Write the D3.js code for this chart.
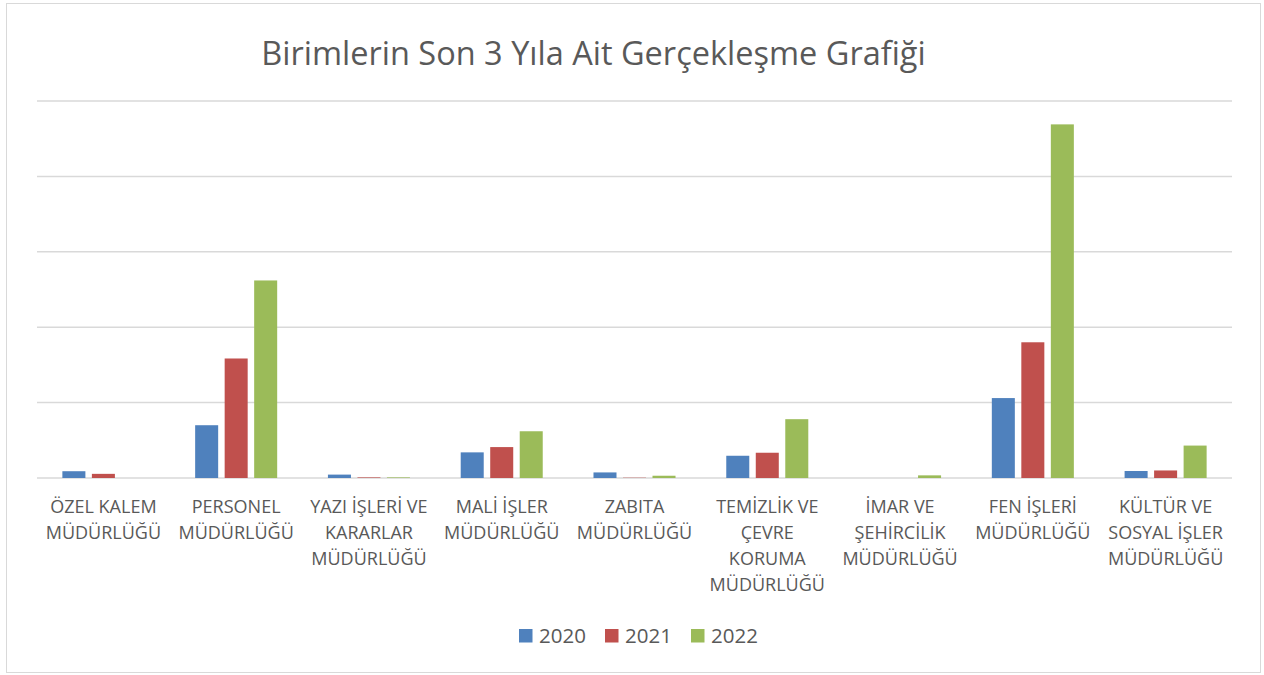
<!DOCTYPE html>
<html>
<head>
<meta charset="utf-8">
<script src="https://cdn.jsdelivr.net/npm/d3@7"></script>
<style>
  body { margin: 0; background: #fff; }
  text { font-family: "Open Sans", "Noto Sans", sans-serif; fill: #595959; }
</style>
</head>
<body>
<div id="chart"></div>
<script>
// values, one gridline = 1 unit (axis labels are hidden in the original)
const categories = [
	"ÖZEL KALEM MÜDÜRLÜĞÜ",
	"PERSONEL MÜDÜRLÜĞÜ",
	"YAZI İŞLERİ VE KARARLAR MÜDÜRLÜĞÜ",
	"MALİ İŞLER MÜDÜRLÜĞÜ",
	"ZABITA MÜDÜRLÜĞÜ",
	"TEMİZLİK VE ÇEVRE KORUMA MÜDÜRLÜĞÜ",
	"İMAR VE ŞEHİRCİLİK MÜDÜRLÜĞÜ",
	"FEN İŞLERİ MÜDÜRLÜĞÜ",
	"KÜLTÜR VE SOSYAL İŞLER MÜDÜRLÜĞÜ"
]
// how the tick labels wrap in the original
const tickLabels = [
	["ÖZEL KALEM", "MÜDÜRLÜĞÜ"],
	["PERSONEL", "MÜDÜRLÜĞÜ"],
	["YAZI İŞLERİ VE", "KARARLAR", "MÜDÜRLÜĞÜ"],
	["MALİ İŞLER", "MÜDÜRLÜĞÜ"],
	["ZABITA", "MÜDÜRLÜĞÜ"],
	["TEMİZLİK VE", "ÇEVRE", "KORUMA", "MÜDÜRLÜĞÜ"],
	["İMAR VE", "ŞEHİRCİLİK", "MÜDÜRLÜĞÜ"],
	["FEN İŞLERİ", "MÜDÜRLÜĞÜ"],
	["KÜLTÜR VE", "SOSYAL İŞLER", "MÜDÜRLÜĞÜ"]
]
const years = ["2020", "2021", "2022"]
const values2020 = [0.09, 0.70, 0.045, 0.34, 0.074, 0.295, 0, 1.06, 0.093]
const values2021 = [0.055, 1.585, 0.008, 0.41, 0.004, 0.335, 0, 1.80, 0.10]
const values2022 = [0, 2.62, 0.008, 0.62, 0.03, 0.78, 0.035, 4.69, 0.43]
const yTicks = [0, 1, 2, 3, 4, 5]
const colors = ["#4F81BD", "#C0504D", "#9BBB59"]

const width = 1264
const height = 675
const margin = ({top: 101, right: 32, bottom: 197, left: 37})

const series = years.map((y, i) => ({
	name: y,
	values: [values2020, values2021, values2022][i]
}))

const svg = d3.select("#chart")
	.append("svg")
		.attr("width", width)
		.attr("height", height)

// outer frame
svg.append("rect")
	.attr("x", 6.5)
	.attr("y", 3.5)
	.attr("width", 1254)
	.attr("height", 669)
	.attr("fill", "#fff")
	.attr("stroke", "#d9d9d9")
	.attr("stroke-width", 1)

svg.append("text")
	.attr("x", 593.5)
	.attr("y", 65)
	.attr("text-anchor", "middle")
	.style("font-size", "32.5px")
	.text("Birimlerin Son 3 Yıla Ait Gerçekleşme Grafiği")

const x0 = d3.scaleBand()
	.domain(categories)
	.range([margin.left, width - margin.right])

const x1 = d3.scaleBand()
	.domain(years)
	.range([0, x0.bandwidth()])
	.paddingInner(0.22)
	.paddingOuter(0.86)

const y = d3.scaleLinear()
	.domain([0, 5])
	.range([height - margin.bottom, margin.top])

// gridlines
svg.append("g")
	.selectAll("line")
	.data(yTicks)
	.join("line")
		.attr("x1", margin.left)
		.attr("x2", width - margin.right)
		.attr("y1", d => y(d))
		.attr("y2", d => y(d))
		.attr("stroke", "#d9d9d9")
		.attr("stroke-width", 1.5)

// bars
svg.append("g")
	.selectAll("g")
	.data(series)
	.join("g")
		.attr("fill", (d, i) => colors[i])
	.selectAll("rect")
	.data(s => s.values.map((v, i) => ({cat: categories[i], year: s.name, value: v})))
	.join("rect")
		.attr("x", d => x0(d.cat) + x1(d.year))
		.attr("width", x1.bandwidth())
		.attr("y", d => y(d.value))
		.attr("height", d => y(0) - y(d.value))

// category labels
const labels = svg.append("g")
	.selectAll("text")
	.data(categories)
	.join("text")
		.attr("text-anchor", "middle")
		.style("font-size", "18px")
		.attr("transform", d => `translate(${x0(d) + x0.bandwidth() / 2},513)`)

labels.selectAll("tspan")
	.data((d, i) => tickLabels[i])
	.join("tspan")
		.attr("x", 0)
		.attr("y", (d, i) => i * 26)
		.text(d => d)

// legend
const legend = svg.append("g")
	.selectAll("g")
	.data(years)
	.join("g")
		.attr("transform", (d, i) => `translate(${519 + i * 86},629)`)

legend.append("rect")
	.attr("width", 13.5)
	.attr("height", 13.5)
	.attr("fill", (d, i) => colors[i])

legend.append("text")
	.attr("x", 20)
	.attr("y", 14)
	.style("font-size", "20.5px")
	.text(d => d)
</script>
</body>
</html>
